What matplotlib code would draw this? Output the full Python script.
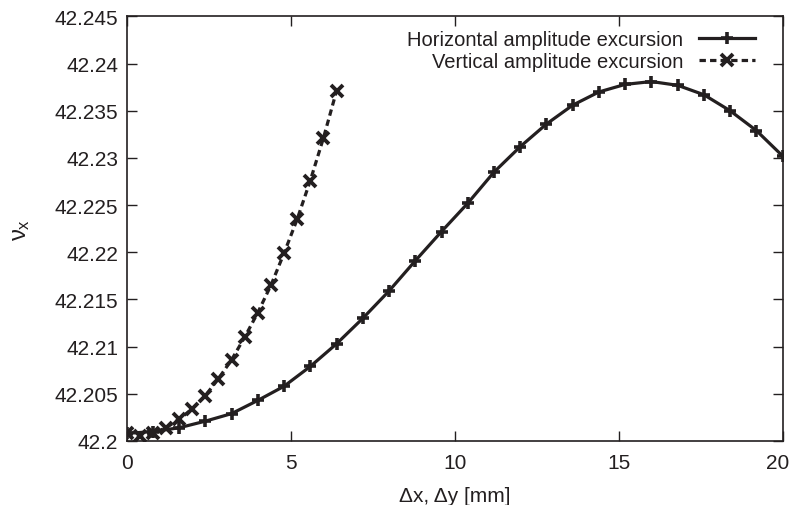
import matplotlib
matplotlib.use("Agg")
import matplotlib.pyplot as plt
from matplotlib.transforms import ScaledTranslation
import numpy as np

# horizontal amplitude excursion (step 0.8 mm)
dx = [0.0, 0.8, 1.6, 2.4, 3.2, 4.0, 4.8, 5.6, 6.4, 7.2, 8.0, 8.8, 9.6,
      10.4, 11.2, 12.0, 12.8, 13.6, 14.4, 15.2, 16.0, 16.8, 17.6, 18.4, 19.2, 20.0]
nux_h = [42.2008, 42.2010, 42.2014, 42.2021, 42.2029, 42.2043, 42.2058,
         42.2079, 42.2103, 42.2130, 42.2159, 42.2191, 42.2222, 42.2252,
         42.2285, 42.2312, 42.2336, 42.2356, 42.2370, 42.2378, 42.2381,
         42.2377, 42.2367, 42.2350, 42.2329, 42.2302]

# vertical amplitude excursion (step 0.4 mm)
dy = [0.0, 0.4, 0.8, 1.2, 1.6, 2.0, 2.4, 2.8, 3.2, 3.6, 4.0, 4.4, 4.8,
      5.2, 5.6, 6.0, 6.4]
nux_v = [42.2008, 42.2005, 42.2008, 42.2014, 42.2023, 42.2034, 42.2048,
         42.2066, 42.2086, 42.2110, 42.2136, 42.2165, 42.2199, 42.2235,
         42.2276, 42.2321, 42.2371]

yticks = [42.2, 42.205, 42.21, 42.215, 42.22, 42.225, 42.23, 42.235, 42.24, 42.245]
ytick_labels = ["42.2", "42.205", "42.21", "42.215", "42.22", "42.225",
                "42.23", "42.235", "42.24", "42.245"]

ink = "#231f20"
plt.rcParams['font.family'] = ['Liberation Sans', 'DejaVu Sans']
plt.rcParams['mathtext.fontset'] = 'custom'
plt.rcParams['mathtext.rm'] = 'Liberation Sans'
plt.rcParams['mathtext.it'] = 'Liberation Sans'

fig = plt.figure(figsize=(7.91, 5.06), dpi=100)
ax = fig.add_axes([0.160, 0.1265, 0.8295, 0.839])

ax.plot(dx, nux_h, color=ink, lw=2.3, marker='+', ms=8.5, mew=2.6,
        label="Horizontal amplitude excursion")
ax.plot(dy, nux_v, color=ink, lw=2.3, ls=(0, (2.0, 1.3)), marker='x', ms=8,
        mew=2.8, label="Vertical amplitude excursion")

ax.set_xlim(0, 20)
ax.set_ylim(42.2, 42.245)
ax.set_xticks([0, 5, 10, 15, 20])
ax.set_yticks(yticks)
ax.set_yticklabels(ytick_labels)
ax.tick_params(direction='in', length=7, width=1, top=True, right=True,
               labelsize=15, colors=ink)
ax.tick_params(axis='x', pad=9)
ax.tick_params(axis='y', pad=6)
for s in ax.spines.values():
    s.set_color(ink)
    s.set_linewidth(1.2)

# keep the last x label inside the figure
lab20 = ax.get_xticklabels()[-1]
lab20.set_transform(lab20.get_transform() + ScaledTranslation(-4 / 72, 0, fig.dpi_scale_trans))

ax.set_xlabel("\u0394x, \u0394y [mm]", fontsize=15, color=ink, labelpad=10)
ax.set_ylabel(r"$\nu_\mathrm{x}$", fontsize=17, color=ink, labelpad=16)

leg = ax.legend(loc='upper right', bbox_to_anchor=(0.970, 0.986),
                borderaxespad=0.0, frameon=False, markerfirst=False,
                fontsize=14.5, handlelength=2.8, labelspacing=0.12,
                handletextpad=0.75)
for t in leg.get_texts():
    t.set_color(ink)

fig.savefig("out.png", dpi=100)
